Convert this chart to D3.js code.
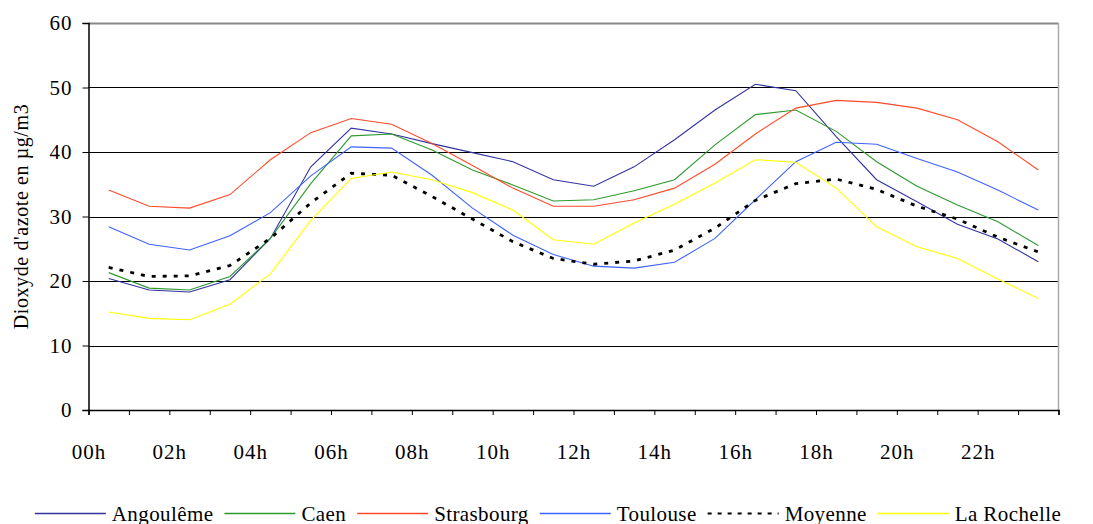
<!DOCTYPE html>
<html>
<head>
<meta charset="utf-8">
<script src="https://cdn.jsdelivr.net/npm/d3@7"></script>
<style>
body { margin: 0; background: #fff; }
text { font-family: "Liberation Serif", "Times New Roman", serif; fill: #000; }
</style>
</head>
<body>
<script>
var width = 1093;
var height = 524;

// measurements, one value per half hour
var hours = [0.5, 1.5, 2.5, 3.5, 4.5, 5.5, 6.5, 7.5, 8.5, 9.5, 10.5, 11.5,
             12.5, 13.5, 14.5, 15.5, 16.5, 17.5, 18.5, 19.5, 20.5, 21.5, 22.5, 23.5];
var hourTicks = [0, 1, 2, 3, 4, 5, 6, 7, 8, 9, 10, 11, 12, 13, 14, 15, 16, 17, 18, 19, 20, 21, 22, 23, 24];
var hourLabels = ["00h", "", "02h", "", "04h", "", "06h", "", "08h", "", "10h", "", "12h",
                  "", "14h", "", "16h", "", "18h", "", "20h", "", "22h", "", ""];
var yTicks = [0, 10, 20, 30, 40, 50, 60];

var angouleme   = [20.4, 18.6, 18.3, 20.2, 26.6, 37.7, 43.7, 42.8, 41.3, 39.9, 38.5, 35.7,
                   34.7, 37.7, 41.9, 46.5, 50.5, 49.5, 42.4, 35.7, 32.3, 28.8, 26.5, 23.0];
var caen        = [21.3, 18.9, 18.6, 20.7, 26.6, 35.1, 42.5, 42.8, 40.3, 37.2, 34.9, 32.4,
                   32.6, 34.0, 35.7, 41.1, 45.8, 46.5, 43.2, 38.5, 34.7, 31.8, 29.2, 25.5];
var strasbourg  = [34.1, 31.6, 31.3, 33.4, 38.8, 43.0, 45.2, 44.3, 41.3, 37.9, 34.4, 31.6,
                   31.6, 32.6, 34.4, 38.1, 42.8, 46.8, 48.0, 47.7, 46.8, 45.0, 41.6, 37.2];
var toulouse    = [28.4, 25.7, 24.8, 27.0, 30.6, 36.3, 40.8, 40.6, 36.4, 31.3, 27.1, 24.1,
                   22.3, 22.0, 22.9, 26.6, 32.6, 38.5, 41.5, 41.2, 39.0, 36.9, 34.1, 31.0];
var moyenne     = [22.1, 20.7, 20.8, 22.4, 26.6, 32.1, 36.7, 36.4, 33.1, 29.6, 26.1, 23.5,
                   22.6, 23.1, 24.8, 28.2, 32.5, 35.1, 35.8, 34.2, 31.6, 29.6, 26.8, 24.5];
var laRochelle  = [15.2, 14.2, 14.0, 16.4, 21.1, 29.4, 35.9, 36.9, 35.7, 33.7, 31.0, 26.4,
                   25.7, 29.0, 31.9, 35.2, 38.8, 38.4, 34.4, 28.4, 25.3, 23.5, 20.3, 17.3];

var seriesNames  = ["Angoulême", "Caen", "Strasbourg", "Toulouse", "Moyenne", "La Rochelle"];
var seriesValues = [angouleme, caen, strasbourg, toulouse, moyenne, laRochelle];
var seriesColors = ["#3333a0", "#2e9a2e", "#ff4a2a", "#3f62ff", "#000000", "#ffff00"];

var plotLeft = 88.5, plotRight = 1058.5, plotTop = 23, plotBottom = 410;

var x = d3.scaleLinear().domain([0, 24]).range([plotLeft, plotRight]);
var y = d3.scaleLinear().domain([0, 60]).range([plotBottom, plotTop]);

var svg = d3.select("body")
            .append("svg")
            .attr("width", width)
            .attr("height", height);

// horizontal gridlines
svg.append("g")
   .selectAll("line")
   .data(yTicks.slice(1))
   .enter()
   .append("line")
   .attr("x1", plotLeft)
   .attr("x2", plotRight)
   .attr("y1", function(d){ return Math.round(y(d)) + 0.5; })
   .attr("y2", function(d){ return Math.round(y(d)) + 0.5; })
   .attr("stroke", function(d){ return d == 60 ? "#888" : "#000"; })
   .attr("stroke-width", function(d){ return d == 60 ? 2 : 1; });

// right border of plot area
svg.append("line")
   .attr("x1", plotRight).attr("x2", plotRight)
   .attr("y1", y(60)).attr("y2", y(0))
   .attr("stroke", "#aaa")
   .attr("stroke-width", 1.5);

// axes
var yAxis = svg.append("g")
               .attr("transform", "translate(" + plotLeft + ",0)")
               .call(d3.axisLeft(y).tickValues(yTicks).tickSize(6).tickPadding(10)
                       .tickFormat(d3.format("d")));
var xAxis = svg.append("g")
               .attr("transform", "translate(0," + plotBottom + ")")
               .call(d3.axisBottom(x).tickValues(hourTicks).tickSize(5).tickPadding(29)
                       .tickFormat(function(d, i){ return hourLabels[i]; }));

[yAxis, xAxis].forEach(function(a){
  a.select(".domain").attr("stroke", "#000").attr("stroke-width", 1.5);
  a.selectAll(".tick line").attr("stroke", "#000");
  a.selectAll("text")
   .style("font-family", "'Liberation Serif', 'Times New Roman', serif")
   .style("font-size", "21px")
   .style("letter-spacing", "1px")
   .attr("fill", "#000");
});

// y axis title
svg.append("text")
   .attr("transform", "translate(28," + ((plotTop + plotBottom) / 2) + ") rotate(-90)")
   .attr("text-anchor", "middle")
   .style("font-size", "20px")
   .style("letter-spacing", "0.6px")
   .text("Dioxyde d'azote en µg/m3");

// series lines
var line = d3.line()
             .x(function(d, i){ return x(hours[i]); })
             .y(function(d){ return y(d); });

svg.append("g")
   .selectAll("path")
   .data(seriesValues)
   .enter()
   .append("path")
   .attr("d", line)
   .attr("fill", "none")
   .attr("stroke", function(d, i){ return seriesColors[i]; })
   .attr("stroke-width", function(d, i){ return seriesNames[i] == "Moyenne" ? 2.8 : 1.1; })
   .attr("stroke-dasharray", function(d, i){ return seriesNames[i] == "Moyenne" ? "4,7" : null; });

// legend
var legend = svg.append("g");
var items = legend.selectAll("g.item")
                  .data(seriesNames)
                  .enter()
                  .append("g")
                  .attr("class", "item");

items.each(function(d, i){
  var g = d3.select(this);
  g.append("line")
   .attr("x1", 0).attr("x2", 71)
   .attr("y1", 0).attr("y2", 0)
   .style("stroke", seriesColors[i])
   .style("stroke-width", d == "Moyenne" ? 2.2 : 1.4)
   .style("stroke-dasharray", d == "Moyenne" ? "4,6" : "none");
  g.append("text")
   .attr("x", 77)
   .attr("y", 7)
   .style("font-size", "21px")
   .style("letter-spacing", "0.4px")
   .text(d);
});

var pos = 0, starts = [];
items.each(function(){
  starts.push(pos);
  pos += 77 + d3.select(this).select("text").node().getComputedTextLength() + 11;
});
var total = pos - 11;
var legendLeft = 548 - total / 2;
items.attr("transform", function(d, i){ return "translate(" + (legendLeft + starts[i]) + ",513.5)"; });
</script>
</body>
</html>
